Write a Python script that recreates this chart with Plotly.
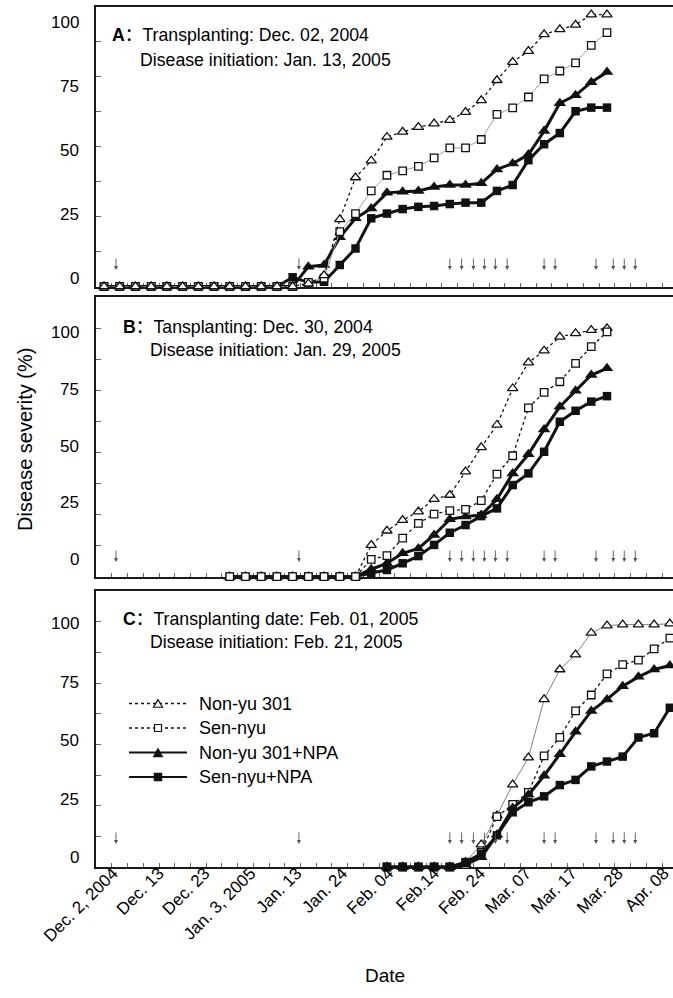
import plotly.graph_objects as go

# ---------------- figure geometry (styling) ----------------
W, H = 673, 998
ML, MR, MT, MB = 96, 0, 7, 131
PW = W - ML - MR
PH = H - MT - MB


def px_x(p):
    return (p - ML) / PW


def px_y(p):
    return 1 - (p - MT) / PH


FONT = "Liberation Sans, Arial, Noto Sans CJK SC, sans-serif"

# ---------------- data ----------------
# observation slots, twice weekly (~3.5 days apart); slot 0 = Dec. 2, 2004
tick_labels = ["Dec. 2, 2004", "Dec. 13", "Dec. 23", "Jan. 3, 2005", "Jan. 13", "Jan. 24",
               "Feb. 04", "Feb.14", "Feb. 24", "Mar. 07", "Mar. 17", "Mar. 28", "Apr. 08"]
tick_slots = [0, 3, 6, 9, 12, 15, 18, 21, 24, 27, 30, 33, 36]
y_tick_labels = [0, 25, 50, 75, 100]

series_names = ["Non-yu 301", "Sen-nyu", "Non-yu 301+NPA", "Sen-nyu+NPA"]

# Panel A (first observation slot 0)
A_start = 0
A_nonyu301 = [0, 0, 0, 0, 0, 0, 0, 0, 0, 0, 0, 0, 0, 1, 4, 24, 39, 45, 53.5, 55.3, 57, 58.3,
              59.5, 62.4, 66.6, 73.8, 80.3, 84.2, 90.2, 92, 93.6, 97.3, 97.3]
A_sennyu = [0, 0, 0, 0, 0, 0, 0, 0, 0, 0, 0, 0, 0, 1.5, 3, 19.6, 26.1, 34.2, 39.8, 41.4, 43, 46,
            49.6, 49.6, 52.6, 61.6, 63.9, 67.8, 74.3, 77.1, 80, 86.3, 90.8]
A_nonyu301_npa = [0, 0, 0, 0, 0, 0, 0, 0, 0, 0, 0, 0, 0, 7.1, 7.7, 17.6, 24.4, 27.9, 33.5, 33.9,
                  34.2, 35.6, 36.3, 36.3, 36.9, 41.9, 44, 47.2, 55.6, 65.6, 68.4, 73.1, 76.7]
A_sennyu_npa = [0, 0, 0, 0, 0, 0, 0, 0, 0, 0, 0, 0, 3.3, 1.5, 1.7, 7.7, 13.6, 24.4, 26.1, 27.7,
                28.5, 28.8, 29.5, 30, 30, 34.2, 36.3, 45.2, 50.9, 54.9, 62.7, 64, 64]

# Panel B (first observation slot 8)
B_start = 8
B_nonyu301 = [0, 0, 0, 0, 0, 0, 0, 0, 0, 12.7, 18.5, 22.8, 26.2, 31.2, 32.9, 42.3, 52.1, 61.1,
              75.8, 86.2, 91, 96.6, 98, 99.3, 100]
B_sennyu = [0, 0, 0, 0, 0, 0, 0, 0, 0, 7, 8.5, 15.5, 21.5, 25.2, 26.6, 27.1, 30.6, 41.3, 48.7,
            68, 74.2, 78.5, 85.9, 92.6, 98.6]
B_nonyu301_npa = [0, 0, 0, 0, 0, 0, 0, 0, 0, 3, 5.4, 9.4, 11.4, 16.8, 23.1, 24.2, 24.8, 31.2,
                  41.6, 49.3, 59.3, 68.4, 74.9, 81.2, 83.9]
B_sennyu_npa = [0, 0, 0, 0, 0, 0, 0, 0, 0, 1.5, 2.7, 5.4, 8.3, 12.8, 17.7, 20.8, 24.4, 27.5,
                36.9, 41.6, 50.3, 62.4, 66.8, 70.5, 72.7]

# Panel C (first observation slot 18)
C_start = 18
C_nonyu301 = [0, 0, 0, 0, 0, 2, 9.1, 21, 33.6, 44.6, 68.3, 80.5, 86.6, 95.4, 98.4, 98.8, 98.8,
              98.8, 99.2]
C_sennyu = [0, 0, 0, 0, 0, 1, 6, 20.5, 25.5, 30.4, 45.3, 52.8, 63.6, 70.1, 78.7, 82.5, 84.3,
            88.9, 93.3]
C_nonyu301_npa = [0, 0, 0, 0, 0, 1, 4, 13.1, 24, 29.4, 37.2, 46, 55.1, 63.6, 68.3, 73.7, 77.5,
                  80.5, 82.1]
C_sennyu_npa = [0, 0, 0, 0, 0, 2, 5.4, 12.9, 22.3, 26.4, 28.8, 33.4, 35.5, 41, 43, 45, 52.8,
                54.5, 64.9]

# treatment arrows (observation-slot units)
arrow_slots = [0.76, 12.4, 22.0, 22.75, 23.5, 24.2, 24.9, 25.65, 28.0, 28.7, 31.3, 32.4, 33.1, 33.8]

# ---------------- styles ----------------
BLACK = "#111111"
marker_style = {
    "Non-yu 301": dict(symbol="triangle-up", size=9, color="white", line=dict(color=BLACK, width=1.3)),
    "Sen-nyu": dict(symbol="square", size=7.5, color="white", line=dict(color=BLACK, width=1.3)),
    "Non-yu 301+NPA": dict(symbol="triangle-up", size=11, color=BLACK, line=dict(width=0)),
    "Sen-nyu+NPA": dict(symbol="square", size=8.5, color=BLACK, line=dict(width=0)),
}
THICK = dict(color=BLACK, width=3)
DOT = dict(color=BLACK, width=1.3, dash="dot")
THIN_GREY = dict(color="#a0a0a0", width=1)
THIN_GREY2 = dict(color="#808080", width=1)

TFS = 17.7  # panel text font size

panels = [
    dict(start=A_start,
         data={"Non-yu 301": A_nonyu301, "Sen-nyu": A_sennyu,
               "Non-yu 301+NPA": A_nonyu301_npa, "Sen-nyu+NPA": A_sennyu_npa},
         lines={"Non-yu 301": DOT, "Sen-nyu": THIN_GREY, "Non-yu 301+NPA": THICK, "Sen-nyu+NPA": THICK},
         order=["Sen-nyu+NPA", "Non-yu 301+NPA", "Sen-nyu", "Non-yu 301"],
         top=7, bottom=286.5, yrange=[0, 100], lab=(278.2, 22.4), arrow_tip=5.9,
         title1=("<b>A</b>：Transplanting: Dec. 02, 2004", 110, 35.5),
         title2=("Disease initiation: Jan. 13, 2005", 138, 60)),
    dict(start=B_start,
         data={"Non-yu 301": B_nonyu301, "Sen-nyu": B_sennyu,
               "Non-yu 301+NPA": B_nonyu301_npa, "Sen-nyu+NPA": B_sennyu_npa},
         lines={"Non-yu 301": DOT, "Sen-nyu": DOT, "Non-yu 301+NPA": THICK, "Sen-nyu+NPA": THICK},
         order=["Sen-nyu+NPA", "Non-yu 301+NPA", "Non-yu 301", "Sen-nyu"],
         top=297.3, bottom=576.7, yrange=[0, 112.5], lab=(559.5, 332.6), arrow_tip=5.9,
         title1=("<b>B</b>：Tansplanting: Dec. 30, 2004", 121, 327),
         title2=("Disease initiation: Jan. 29, 2005", 148, 350.5)),
    dict(start=C_start,
         data={"Non-yu 301": C_nonyu301, "Sen-nyu": C_sennyu,
               "Non-yu 301+NPA": C_nonyu301_npa, "Sen-nyu+NPA": C_sennyu_npa},
         lines={"Non-yu 301": THIN_GREY2, "Sen-nyu": DOT, "Non-yu 301+NPA": THICK, "Sen-nyu+NPA": THICK},
         order=["Non-yu 301", "Sen-nyu", "Non-yu 301+NPA", "Sen-nyu+NPA"],
         top=591, bottom=867, yrange=[0, 112.5], lab=(857.5, 623.5), arrow_tip=9.4,
         title1=("<b>C</b>：Transplanting date: Feb. 01, 2005", 121, 618.5),
         title2=("Disease initiation: Feb. 21, 2005", 148, 642)),
]

XRANGE = [-0.51, 36.2]          # data axes
XLABEL_RANGE = [-1.11, 36.6]    # label axis (labels sit slightly tighter than the slots)
half_slots = [i + 0.5 for i in range(0, 37)]

fig = go.Figure()
annotations = []
shapes = []
layout_axes = {}

for k, p in enumerate(panels, start=1):
    xa = "x" if k == 1 else f"x{k}"
    ya = "y" if k == 1 else f"y{k}"
    for name in p["order"]:
        vals = p["data"][name]
        xs = list(range(p["start"], p["start"] + len(vals)))
        fig.add_trace(go.Scatter(
            x=xs, y=vals, mode="lines+markers", name=name, showlegend=False,
            line=p["lines"][name], marker=marker_style[name],
            xaxis=xa, yaxis=ya, cliponaxis=False, hoverinfo="skip"))
    # treatment arrows
    for s in arrow_slots:
        annotations.append(dict(
            x=s, y=p["arrow_tip"], xref=xa, yref=ya, text="", showarrow=True,
            ax=0, ay=-13, axref="pixel", ayref="pixel", arrowhead=2, arrowsize=0.9,
            arrowwidth=0.9, arrowcolor="#555555", standoff=0, startstandoff=0))

    dom = [px_y(p["bottom"]), px_y(p["top"])]
    layout_axes[f"xaxis{'' if k == 1 else k}"] = dict(
        domain=[0, 1], anchor=ya, range=XRANGE, showline=True, linecolor="#1a1a1a",
        linewidth=2, mirror=True, tickmode="array", tickvals=tick_slots,
        ticks="", showticklabels=False, automargin=False,
        minor=dict(tickmode="array", tickvals=half_slots, ticks="inside", ticklen=4,
                   tickcolor="#666666", tickwidth=1, showgrid=False),
        showgrid=False, zeroline=False, layer="below traces",
        **({} if k == 1 else dict(matches="x")))
    layout_axes[f"yaxis{'' if k == 1 else k}"] = dict(
        domain=dom, anchor=xa, range=p["yrange"], showline=True, linecolor="#1a1a1a",
        linewidth=1.5, ticks="inside", tickmode="linear", tick0=0, dtick=12.5, ticklen=5,
        tickcolor="#666666", tickwidth=1, showticklabels=False, showgrid=False,
        zeroline=False, layer="below traces", automargin=False)

    # y tick labels (placed along the panel's label scale)
    l0, l100 = p["lab"]
    for v in y_tick_labels:
        py_ = l0 + (l100 - l0) * v / 100.0
        annotations.append(dict(
            x=px_x(81), y=px_y(py_), xref="paper", yref="paper", text=str(v),
            showarrow=False, xanchor="right", yanchor="middle",
            font=dict(family=FONT, size=17, color="black")))

    # panel titles
    for (txt, tx, ty) in (p["title1"], p["title2"]):
        annotations.append(dict(
            x=px_x(tx), y=px_y(ty), xref="paper", yref="paper", text=txt,
            showarrow=False, xanchor="left", yanchor="middle",
            font=dict(family=FONT, size=TFS, color="black")))

# date labels on an overlaying axis under panel C
fig.add_trace(go.Scatter(x=[None], y=[None], xaxis="x4", yaxis="y3", showlegend=False,
                         hoverinfo="skip", mode="markers"))
layout_axes["xaxis4"] = dict(
    overlaying="x3", anchor="y3", side="bottom", range=XLABEL_RANGE, tickmode="array",
    tickvals=tick_slots, ticktext=tick_labels, ticks="", showline=False, showgrid=False,
    zeroline=False, tickangle=-45, automargin=False, ticklabeloverflow="allow",
    ticklabelstandoff=-8, tickfont=dict(family=FONT, size=17, color="black"))

# ---------------- legend (drawn in panel C) ----------------
leg_rows = [703.5, 728, 752.5, 777]
leg_line_x = (129, 187)
leg_mark_x = 158
leg_text_x = 197
leg_line_styles = [dict(color=BLACK, width=1.3, dash="dot"), dict(color=BLACK, width=1.3, dash="dot"),
                   dict(color=BLACK, width=2), dict(color=BLACK, width=2)]


def tri_path(cx, cy, w, h):
    return (f"M {px_x(cx - w / 2)},{px_y(cy + h / 2)} L {px_x(cx + w / 2)},{px_y(cy + h / 2)} "
            f"L {px_x(cx)},{px_y(cy - h / 2)} Z")


for i, name in enumerate(series_names):
    ry = leg_rows[i]
    shapes.append(dict(type="line", xref="paper", yref="paper",
                       x0=px_x(leg_line_x[0]), x1=px_x(leg_line_x[1]),
                       y0=px_y(ry), y1=px_y(ry), line=leg_line_styles[i]))
    if i == 0:
        shapes.append(dict(type="path", xref="paper", yref="paper", path=tri_path(leg_mark_x, ry, 9, 7.5),
                           fillcolor="white", line=dict(color=BLACK, width=1.2)))
    elif i == 1:
        shapes.append(dict(type="rect", xref="paper", yref="paper",
                           x0=px_x(leg_mark_x - 3.5), x1=px_x(leg_mark_x + 3.5),
                           y0=px_y(ry + 3.5), y1=px_y(ry - 3.5),
                           fillcolor="white", line=dict(color=BLACK, width=1.2)))
    elif i == 2:
        shapes.append(dict(type="path", xref="paper", yref="paper", path=tri_path(leg_mark_x, ry, 10, 9),
                           fillcolor=BLACK, line=dict(color=BLACK, width=0.5)))
    else:
        shapes.append(dict(type="rect", xref="paper", yref="paper",
                           x0=px_x(leg_mark_x - 4), x1=px_x(leg_mark_x + 4),
                           y0=px_y(ry + 4), y1=px_y(ry - 4),
                           fillcolor=BLACK, line=dict(color=BLACK, width=0.5)))
    annotations.append(dict(x=px_x(leg_text_x), y=px_y(ry), xref="paper", yref="paper",
                            text=name, showarrow=False, xanchor="left", yanchor="middle",
                            font=dict(family=FONT, size=18, color="black")))

# axis titles
annotations.append(dict(x=px_x(384.5), y=px_y(975), xref="paper", yref="paper", text="Date",
                        showarrow=False, xanchor="center", yanchor="middle",
                        font=dict(family=FONT, size=19, color="black")))
annotations.append(dict(x=px_x(25), y=px_y(440), xref="paper", yref="paper",
                        text="Disease severity (%)", textangle=-90, showarrow=False,
                        xanchor="center", yanchor="middle",
                        font=dict(family=FONT, size=20, color="black")))

fig.update_layout(
    width=W, height=H, margin=dict(l=ML, r=MR, t=MT, b=MB, pad=0, autoexpand=False),
    paper_bgcolor="white", plot_bgcolor="white", showlegend=False,
    font=dict(family=FONT, color="black"),
    annotations=annotations, shapes=shapes, **layout_axes)

fig.write_html(
    "out.html",
    config={"displayModeBar": False},
    post_script="document.body.style.margin='0';document.body.style.padding='0';"
                "document.documentElement.style.overflow='hidden';")
